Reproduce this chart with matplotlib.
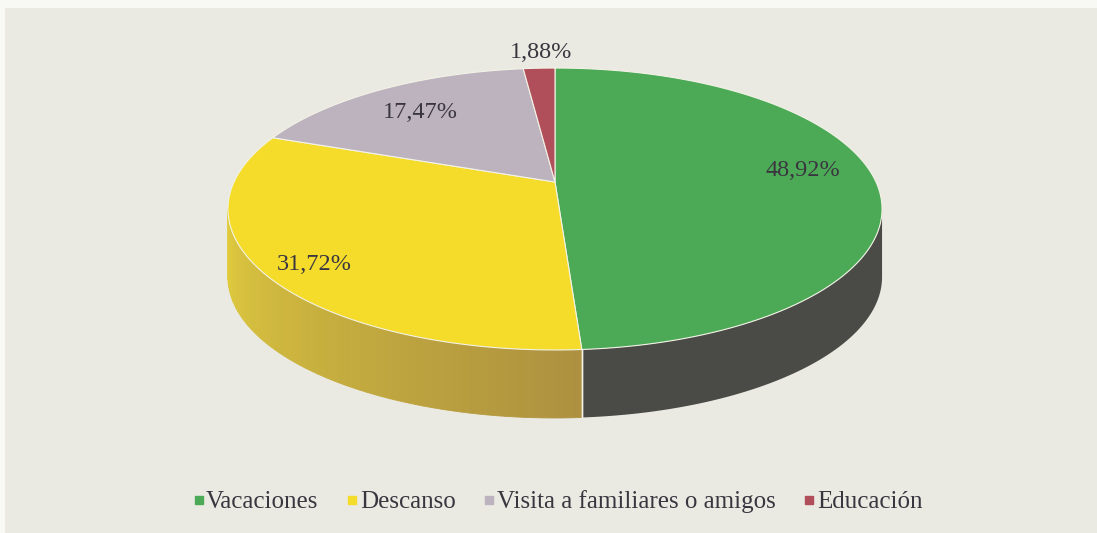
import numpy as np
import matplotlib
matplotlib.use("Agg")
import matplotlib.pyplot as plt
from matplotlib.patches import Polygon, Rectangle
from matplotlib.lines import Line2D

# ---- data ----
categories = ["Vacaciones", "Descanso", "Visita a familiares o amigos", "Educación"]
values = [48.92, 31.72, 17.47, 1.88]
top_colors = ["#4caa57", "#f6dc2a", "#bdb3bf", "#b04e5a"]
side_colors = ["#4a4b47", "#c9ad3e", "#a69ca8", "#8c3c46"]
legend_colors = ["#4caa57", "#f6dc2a", "#bdb3bf", "#b04e5a"]
label_pos = [(803, 170), (314, 265), (420, 112), (541, 52)]

# ---- geometry (pixel space, perspective pie) ----
W, H = 1097, 533
cx, cy0 = 555, 182          # projected pie centre
A, B, k = 321, 135.8, 0.1915  # scale and perspective factor
depth = 68

fig = plt.figure(figsize=(W / 100, H / 100), dpi=100, facecolor="#f8f8f4")
ax = fig.add_axes([0, 0, 1, 1])
ax.set_xlim(0, W)
ax.set_ylim(H, 0)
ax.axis("off")
ax.add_patch(Rectangle((5, 8), W, H, facecolor="#ebeae2", edgecolor="none", zorder=0))


def pts(t0, t1, n=200, dy=0):
    t = np.radians(np.linspace(t0, t1, n))
    u, v = np.sin(t), np.cos(t)
    d = 1 + k * v
    return np.column_stack([cx + A * u / d, cy0 - B * v / d + dy])


total = sum(values)
angles = np.concatenate([[0], np.cumsum(values) / total * 360])
edge = "#f2f2e6"
lim = np.degrees(np.arccos(-k))
vis0, vis1 = lim, 360 - lim

# sides
for i in range(len(values)):
    a0, a1 = max(angles[i], vis0), min(angles[i + 1], vis1)
    if a1 <= a0:
        continue
    if i == 1:
        n = 60
        ts = np.linspace(a0, a1, n + 1)
        c_dark = np.array([0.68, 0.57, 0.25])
        c_light = np.array([0.88, 0.80, 0.24])
        for kk in range(n):
            f = kk / (n - 1)
            col = c_dark * (1 - f) + c_light * f
            top = pts(ts[kk], ts[kk + 1], 6)
            bot = pts(ts[kk], ts[kk + 1], 6, depth)[::-1]
            ax.add_patch(Polygon(np.vstack([top, bot]), closed=True,
                                 facecolor=col, edgecolor=col, lw=0.6, zorder=2))
    else:
        top = pts(a0, a1)
        bot = pts(a0, a1, dy=depth)[::-1]
        ax.add_patch(Polygon(np.vstack([top, bot]), closed=True,
                             facecolor=side_colors[i], edgecolor="none", zorder=2))
    for a in (a0, a1):
        if vis0 < a < vis1:
            p = pts(a, a, 1)[0]
            ax.plot([p[0], p[0]], [p[1], p[1] + depth], color=edge, lw=1, zorder=3)

# top faces
for i in range(len(values)):
    arc = pts(angles[i], angles[i + 1])
    poly = np.vstack([[cx, cy0], arc])
    ax.add_patch(Polygon(poly, closed=True, facecolor=top_colors[i],
                         edgecolor=edge, lw=0.8, zorder=4))

# labels
for v, (x, y) in zip(values, label_pos):
    ax.text(x, y, f"{v:.2f}%".replace(".", ","), ha="center", va="center",
            fontsize=17.5, family="Liberation Serif", color="#3a3640", zorder=6)

handles = [Line2D([], [], marker="s", linestyle="none", markersize=5.5,
                  markerfacecolor=c, markeredgecolor=c) for c in legend_colors]
leg = fig.legend(handles, categories, loc="center", bbox_to_anchor=(558 / W, 1 - 502 / H),
                 ncol=4, frameon=False, handlelength=0.4, handletextpad=0.1,
                 columnspacing=1.15, borderpad=0, borderaxespad=0,
                 prop={"family": "Liberation Serif", "size": 18})
for t in leg.get_texts():
    t.set_color("#3a3640")

fig.savefig("out.png", dpi=100, facecolor=fig.get_facecolor())
